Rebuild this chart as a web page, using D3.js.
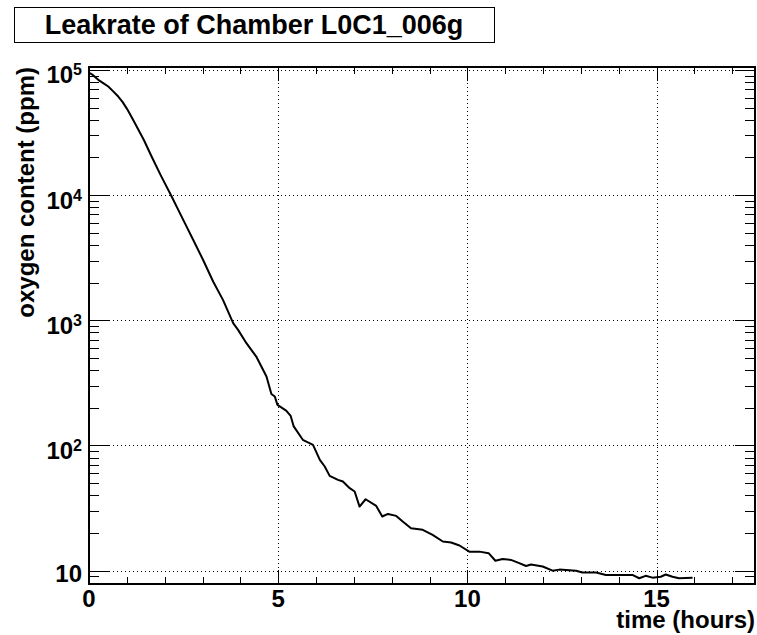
<!DOCTYPE html>
<html>
<head>
<meta charset="utf-8">
<script src="https://cdn.jsdelivr.net/npm/d3@7"></script>
<style>
  body { margin: 0; background: #fff; }
  svg text { font-family: "Liberation Sans", Arial, Helvetica, sans-serif; font-weight: bold; fill: #000; }
</style>
</head>
<body>
<div id="chart"></div>
<script>
const title = "Leakrate of Chamber L0C1_006g";
const xLabel = "time (hours)";
const yLabel = "oxygen content (ppm)";

// measured curve (hours, ppm)
const hours = [0, 0.05, 0.1, 0.245, 0.375, 0.51, 0.64, 0.773, 0.89, 1.0, 1.1, 1.214, 1.45, 1.654, 1.9, 2.164, 2.533,
  2.752, 3.016, 3.28, 3.54, 3.81, 3.94, 4.16, 4.42, 4.69, 4.82, 4.91, 4.98, 5.21, 5.33, 5.41, 5.65, 5.92, 6.10,
  6.23, 6.36, 6.58, 6.71, 6.89, 7.02, 7.15, 7.31, 7.59, 7.75, 7.90, 8.12, 8.29, 8.51, 8.82, 9.08, 9.35, 9.57,
  9.79, 10.05, 10.32, 10.56, 10.74, 10.93, 11.15, 11.37, 11.55, 11.68, 11.99, 12.25, 12.43, 12.87, 13.04, 13.4,
  13.66, 14.01, 14.36, 14.54, 14.71, 14.89, 15.11, 15.24, 15.42, 15.59, 15.95];
const ppm = [94200, 93000, 91000, 83200, 78300, 73600, 67300, 61200, 55200, 49000, 43400, 37500, 27500, 20300, 14300,
  10000, 5970, 4390, 3030, 2040, 1455, 948, 838, 656, 513, 355, 258, 246, 211, 190, 172, 142, 111, 101, 76.7,
  67.9, 57.2, 53.1, 51.5, 45.6, 42.9, 32.5, 37.2, 32.9, 27.1, 28.4, 27.4, 24.7, 21.8, 21.2, 19.3, 17.1, 16.8,
  15.9, 14.2, 14.2, 13.8, 12.0, 12.4, 12.2, 11.5, 10.9, 11.2, 10.8, 10.0, 10.2, 10.0, 9.66, 9.66,
  9.25, 9.25, 9.25, 8.7, 9.1, 8.8, 8.95, 9.33, 8.95, 8.7, 8.8];

const xTicks = [0, 5, 10, 15];
const xTickLabels = ["0", "5", "10", "15"];
const yTicks = [10, 100, 1000, 10000, 100000];
const yTickExponents = ["", "2", "3", "4", "5"];

const xDomain = [0, 17.6];
const yDomain = [7.83, 105300];

const W = 757, H = 635;
const margin = { top: 67, right: 2, bottom: 51, left: 89 };
const width = W - margin.left - margin.right;
const height = H - margin.top - margin.bottom;

const svg = d3.select("#chart").append("svg")
  .attr("width", W)
  .attr("height", H);

const x = d3.scaleLinear().domain(xDomain).range([0, width]);
const y = d3.scaleLog().domain(yDomain).range([height, 0]);

const g = svg.append("g").attr("transform", `translate(${margin.left},${margin.top})`);

// grid
g.selectAll(".vgrid")
  .data(xTicks.filter(d => d > 0))
  .enter().append("line")
  .attr("x1", d => Math.round(x(d)) + 0.5).attr("x2", d => Math.round(x(d)) + 0.5)
  .attr("y1", 0).attr("y2", height)
  .style("stroke", "#000").style("stroke-width", 1)
  .style("stroke-dasharray", "1,3");

g.selectAll(".hgrid")
  .data(yTicks)
  .enter().append("line")
  .attr("x1", 0).attr("x2", width)
  .attr("y1", d => Math.round(y(d)) + 0.5).attr("y2", d => Math.round(y(d)) + 0.5)
  .style("stroke", "#000").style("stroke-width", 1)
  .style("stroke-dasharray", "1,3");

// x ticks, bottom and top, pointing inward
const xMinor = d3.range(0, 18).filter(d => d <= xDomain[1]);
xMinor.forEach(d => {
  const len = d % 5 === 0 ? 14 : 7;
  const px = Math.round(x(d)) + 0.5;
  g.append("line").attr("x1", px).attr("x2", px).attr("y1", height).attr("y2", height - len)
    .style("stroke", "#000").style("stroke-width", 1);
  g.append("line").attr("x1", px).attr("x2", px).attr("y1", 0).attr("y2", len)
    .style("stroke", "#000").style("stroke-width", 1);
});

// y ticks, left and right
const yMinor = [];
for (let e = 0; e <= 5; e++) {
  for (let m = 1; m <= 9; m++) {
    const v = m * Math.pow(10, e);
    if (v >= yDomain[0] && v <= yDomain[1]) yMinor.push({ v, major: m === 1 });
  }
}
yMinor.forEach(t => {
  const len = t.major ? 20 : 10;
  const py = Math.round(y(t.v)) + 0.5;
  g.append("line").attr("x1", 0).attr("x2", len).attr("y1", py).attr("y2", py)
    .style("stroke", "#000").style("stroke-width", 1);
  g.append("line").attr("x1", width).attr("x2", width - len).attr("y1", py).attr("y2", py)
    .style("stroke", "#000").style("stroke-width", 1);
});

// curve
const line = d3.line()
  .x((d, i) => x(hours[i]))
  .y(d => y(d));

g.append("path")
  .datum(ppm)
  .attr("d", line)
  .style("fill", "none")
  .style("stroke", "#000")
  .style("stroke-width", 2)
  .style("stroke-linejoin", "round");

// frame
g.append("rect")
  .attr("x", 0).attr("y", 0)
  .attr("width", width).attr("height", height)
  .style("fill", "none")
  .style("stroke", "#000")
  .style("stroke-width", 2);

// x tick labels
g.selectAll(".xlab")
  .data(xTicks)
  .enter().append("text")
  .attr("x", d => x(d))
  .attr("y", height + 23)
  .attr("text-anchor", "middle")
  .style("font-size", "24px")
  .text((d, i) => xTickLabels[i]);

// y tick labels
yTicks.forEach((v, i) => {
  const exp = yTickExponents[i];
  const t = g.append("text")
    .attr("x", -7)
    .attr("y", y(v) + (exp ? 13.5 : 11))
    .attr("text-anchor", "end")
    .style("font-size", "24px");
  t.append("tspan").text("10");
  if (exp) {
    t.append("tspan").attr("dy", -8).style("font-size", "16px").text(exp);
  }
});

// axis titles
svg.append("text")
  .attr("x", W - 2)
  .attr("y", 628)
  .attr("text-anchor", "end")
  .style("font-size", "24px")
  .text(xLabel);

svg.append("text")
  .attr("transform", `translate(34,${margin.top}) rotate(-90)`)
  .attr("text-anchor", "end")
  .style("font-size", "24px")
  .text(yLabel);

// title box
svg.append("rect")
  .attr("x", 14.5).attr("y", 7.5)
  .attr("width", 480).attr("height", 35)
  .style("fill", "#fff")
  .style("stroke", "#000")
  .style("stroke-width", 1);

svg.append("text")
  .attr("x", 254)
  .attr("y", 34)
  .attr("text-anchor", "middle")
  .style("font-size", "27px")
  .text(title);
</script>
</body>
</html>
